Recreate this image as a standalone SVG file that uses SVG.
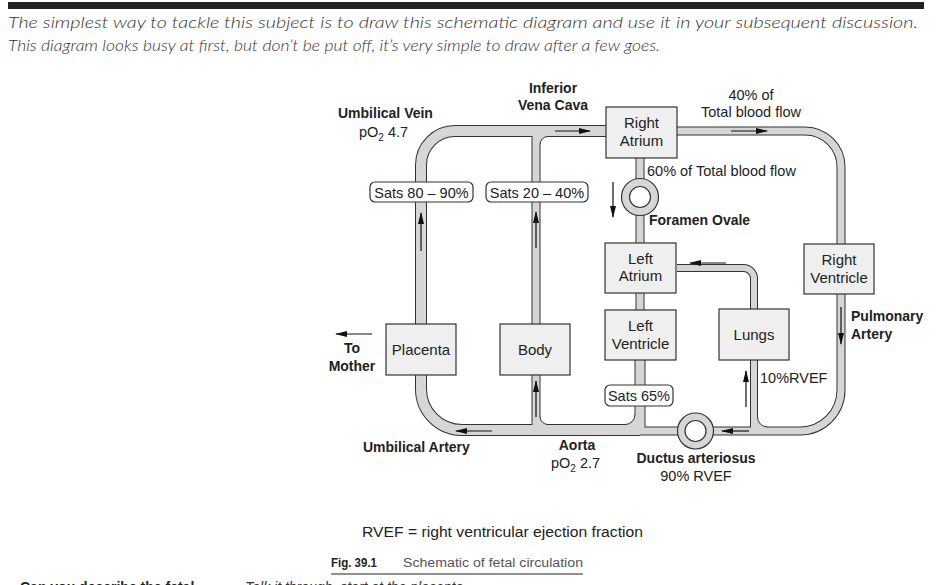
<svg xmlns="http://www.w3.org/2000/svg" xmlns:xlink="http://www.w3.org/1999/xlink" width="936" height="585" viewBox="0 0 936 585">
<style>
text{font-family:"Liberation Sans",Arial,sans-serif;fill:#222}
.b{font-weight:bold;font-size:14px}
.r{font-size:14.5px}
.bx{font-size:15px;text-anchor:middle}
.c{text-anchor:middle}
.intro{font-family:Lato,"Liberation Sans",sans-serif;font-weight:300;font-style:italic;font-size:16px;fill:#333}
.box{fill:#efefef;stroke:#333;stroke-width:1.2}
.sats{fill:#fff;stroke:#333;stroke-width:1.2}
.o12{fill:none;stroke:#333;stroke-width:12}
.i12{fill:none;stroke:#d6d6d6;stroke-width:10}
.o11{fill:none;stroke:#333;stroke-width:11}
.i11{fill:none;stroke:#d6d6d6;stroke-width:9}
.o9{fill:none;stroke:#333;stroke-width:9}
.i9{fill:none;stroke:#d6d6d6;stroke-width:7}
.o8{fill:none;stroke:#333;stroke-width:8}
.i8{fill:none;stroke:#d6d6d6;stroke-width:6}
.ff{fill:#d6d6d6;stroke:none}
.fe{fill:none;stroke:#333;stroke-width:1}
.ring{fill:#d6d6d6;stroke:#333;stroke-width:1.2}
.hole{fill:#fff;stroke:#333;stroke-width:1.2}
.arr{fill:none;stroke:#111;stroke-width:1.2;marker-end:url(#ah)}
</style>
<defs>
<marker id="ah" markerUnits="userSpaceOnUse" markerWidth="12" markerHeight="6" refX="11" refY="3" orient="auto">
<path d="M0,0 L12,3 L0,6 Z" fill="#111"/>
</marker>
<path id="t-uv" d="M421,324 L421,165 A34 34 0 0 1 455,131 L606,131"/>
<path id="t-ua" d="M421,375 L421,389 A41 41 0 0 0 462,430 L640,430"/>
<path id="t-lv" d="M640,360 L640,430"/>
<path id="t-bt" d="M536,131 L536,324"/>
<path id="t-bb" d="M536,375 L536,430"/>
<path id="t-ra" d="M640,158 L640,182"/>
<path id="t-fo" d="M640,212 L640,243"/>
<path id="t-la" d="M640,293 L640,310"/>
<path id="t-pa1" d="M677,131 L805,131 A36 36 0 0 1 841,167 L841,244"/>
<path id="t-pa2" d="M841,294 L841,390 A41 41 0 0 1 800,431 L710,431"/>
<path id="t-da" d="M640,431 L681,431"/>
<path id="t-lu" d="M754,360 L754,431"/>
<path id="t-pv" d="M677,268 L743.5,268 A10.5 10.5 0 0 1 754,278.5 L754,309"/>
</defs>

<rect x="8" y="2" width="916" height="7" fill="#222"/>
<text class="intro" x="8" y="28" textLength="910" lengthAdjust="spacingAndGlyphs">The simplest way to tackle this subject is to draw this schematic diagram and use it in your subsequent discussion.</text>
<text class="intro" x="8" y="51" textLength="652" lengthAdjust="spacingAndGlyphs">This diagram looks busy at first, but don’t be put off, it’s very simple to draw after a few goes.</text>

<g id="connectors">
<use xlink:href="#t-uv" class="o12"/>
<use xlink:href="#t-ua" class="o12"/>
<use xlink:href="#t-lv" class="o11"/>
<use xlink:href="#t-bt" class="o9"/>
<use xlink:href="#t-bb" class="o9"/>
<use xlink:href="#t-ra" class="o9"/>
<use xlink:href="#t-fo" class="o9"/>
<use xlink:href="#t-la" class="o9"/>
<use xlink:href="#t-pa1" class="o9"/>
<use xlink:href="#t-pa2" class="o9"/>
<use xlink:href="#t-da" class="o9"/>
<use xlink:href="#t-lu" class="o8"/>
<use xlink:href="#t-pv" class="o8"/>
<use xlink:href="#t-uv" class="i12"/>
<use xlink:href="#t-ua" class="i12"/>
<use xlink:href="#t-lv" class="i11"/>
<use xlink:href="#t-bt" class="i9"/>
<use xlink:href="#t-bb" class="i9"/>
<use xlink:href="#t-ra" class="i9"/>
<use xlink:href="#t-fo" class="i9"/>
<use xlink:href="#t-la" class="i9"/>
<use xlink:href="#t-pa1" class="i9"/>
<use xlink:href="#t-pa2" class="i9"/>
<use xlink:href="#t-da" class="i9"/>
<use xlink:href="#t-lu" class="i8"/>
<use xlink:href="#t-pv" class="i8"/>
<!-- junction fillets -->
<path class="ff" d="M540,144.5 A8 8 0 0 1 548,136.5 L548,135 L538.5,135 L538.5,144.5 Z"/>
<path class="fe" d="M540,144.5 A8 8 0 0 1 548,136.5"/>
<path class="ff" d="M540,416.5 A8 8 0 0 0 548,424.5 L548,426 L538.5,426 L538.5,416.5 Z"/>
<path class="fe" d="M540,416.5 A8 8 0 0 0 548,424.5"/>
<path class="ff" d="M635,414.5 A10 10 0 0 1 625,424.5 L625,426 L636.5,426 L636.5,414.5 Z"/>
<path class="fe" d="M635,414.5 A10 10 0 0 1 625,424.5"/>
<path class="ff" d="M757.5,417 A10 10 0 0 0 767.5,427 L767.5,428.5 L756,428.5 L756,417 Z"/>
<path class="fe" d="M757.5,417 A10 10 0 0 0 767.5,427"/>
<!-- arrows -->
<path class="arr" d="M555,131 L590,131"/>
<path class="arr" d="M731,131 L767,131"/>
<path class="arr" d="M613,182 L613,217"/>
<path class="arr" d="M421,251 L421,213"/>
<path class="arr" d="M536,248 L536,212"/>
<path class="arr" d="M372,334 L336,334"/>
<path class="arr" d="M726,263 L690,263"/>
<path class="arr" d="M841,307 L841,344"/>
<path class="arr" d="M746,407 L746,371"/>
<path class="arr" d="M749,431 L722,431"/>
<path class="arr" d="M536,417 L536,381"/>
<path class="arr" d="M492,431 L456,431"/>
</g>

<g id="foramen-ovale">
<circle class="ring" cx="640" cy="197" r="18.5"/>
<circle class="hole" cx="640" cy="197" r="10.5"/>
<text class="b" x="649" y="225">Foramen Ovale</text>
</g>
<g id="ductus-arteriosus">
<circle class="ring" cx="695.5" cy="431" r="18"/>
<circle class="hole" cx="695.5" cy="431" r="10.5"/>
<text class="b c" x="696" y="463">Ductus arteriosus</text>
<text class="r c" x="696" y="481">90% RVEF</text>
</g>

<g id="right-atrium">
<rect class="box" x="606" y="107" width="71" height="51"/>
<text class="bx" x="641.5" y="128">Right</text>
<text class="bx" x="641.5" y="146">Atrium</text>
</g>
<g id="left-atrium">
<rect class="box" x="605" y="243" width="71" height="50"/>
<text class="bx" x="640.5" y="264">Left</text>
<text class="bx" x="640.5" y="281">Atrium</text>
</g>
<g id="left-ventricle">
<rect class="box" x="605" y="310" width="71" height="50"/>
<text class="bx" x="640.5" y="331">Left</text>
<text class="bx" x="640.5" y="349">Ventricle</text>
</g>
<g id="right-ventricle">
<rect class="box" x="804" y="244" width="70" height="50"/>
<text class="bx" x="839" y="265">Right</text>
<text class="bx" x="839" y="283">Ventricle</text>
</g>
<g id="lungs">
<rect class="box" x="719" y="309" width="70" height="51"/>
<text class="bx" x="754" y="340">Lungs</text>
</g>
<g id="placenta">
<rect class="box" x="386" y="324" width="70" height="51"/>
<text class="bx" x="421" y="355">Placenta</text>
</g>
<g id="body">
<rect class="box" x="500" y="324" width="70" height="51"/>
<text class="bx" x="535" y="355">Body</text>
</g>

<g id="sats-uv">
<rect class="sats" x="370" y="182" width="103" height="20" rx="5"/>
<text class="r c" x="421.5" y="197.5">Sats 80 – 90%</text>
</g>
<g id="sats-ivc">
<rect class="sats" x="486" y="182" width="102" height="20" rx="5"/>
<text class="r c" x="537" y="197.5">Sats 20 – 40%</text>
</g>
<g id="sats-lv">
<rect class="sats" x="605" y="385" width="68" height="21" rx="5"/>
<text class="r c" x="639" y="401">Sats 65%</text>
</g>

<g id="labels">
<text class="b" x="338" y="118">Umbilical Vein</text>
<text class="r" x="359" y="137">pO<tspan font-size="10" dy="4">2</tspan><tspan dy="-4"> 4.7</tspan></text>
<text class="b c" x="553" y="93">Inferior</text>
<text class="b c" x="553" y="110">Vena Cava</text>
<text class="r c" x="751" y="100">40% of</text>
<text class="r c" x="751" y="117">Total blood flow</text>
<text class="r" x="647" y="176">60% of Total blood flow</text>
<text class="b" x="851" y="321">Pulmonary</text>
<text class="b" x="851" y="339">Artery</text>
<text class="b c" x="352" y="353">To</text>
<text class="b c" x="352" y="371">Mother</text>
<text class="r" x="760" y="383">10%RVEF</text>
<text class="b" x="363" y="452">Umbilical Artery</text>
<text class="b c" x="577" y="450">Aorta</text>
<text class="r" x="551" y="468">pO<tspan font-size="10" dy="4">2</tspan><tspan dy="-4"> 2.7</tspan></text>
<text x="362" y="537" font-size="15.5" textLength="281" lengthAdjust="spacingAndGlyphs">RVEF = right ventricular ejection fraction</text>
</g>

<g id="caption">
<text x="331" y="567" font-size="12.5" font-weight="bold" textLength="46" lengthAdjust="spacingAndGlyphs">Fig. 39.1</text>
<text x="403" y="567" font-size="12.5" style="fill:#555" textLength="180" lengthAdjust="spacingAndGlyphs">Schematic of fetal circulation</text>
<line x1="331" y1="574" x2="583" y2="574" stroke="#222" stroke-width="1"/>
<text x="20" y="592" font-size="14" font-weight="bold">Can you describe the fetal</text>
<text x="245" y="592" font-size="14" font-style="italic" style="fill:#333">Talk it through, start at the placenta</text>
</g>
</svg>
